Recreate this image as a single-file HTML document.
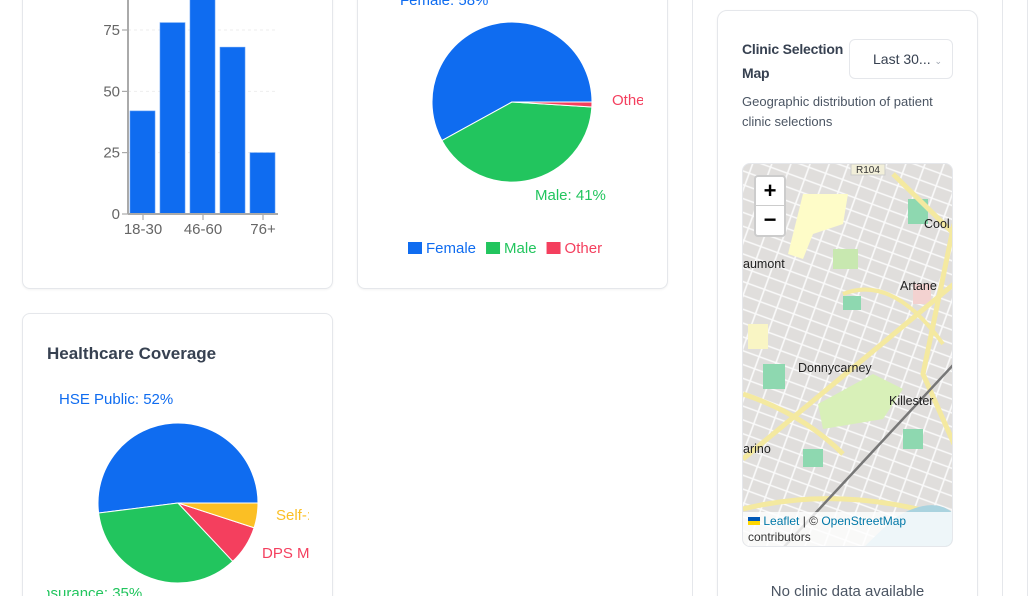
<!DOCTYPE html>
<html><head><meta charset="utf-8">
<style>
*{box-sizing:border-box;margin:0;padding:0}
html,body{width:1029px;height:596px;overflow:hidden}
body{background:#fff;font-family:"Liberation Sans",sans-serif;position:relative}
.card{position:absolute;background:#fff;border:1px solid #e5e7eb;border-radius:8px;box-shadow:0 1px 2px rgba(0,0,0,0.05)}
svg text{font-family:"Liberation Sans",sans-serif}
</style></head><body>
<div class="card" style="left:22px;top:-20px;width:311px;height:309px"></div>
<div class="card" style="left:357px;top:-20px;width:311px;height:309px"></div>
<div class="card" style="left:22px;top:313px;width:311px;height:300px">
  <div style="position:absolute;left:24px;top:30px;font-size:17px;font-weight:bold;color:#374151">Healthcare Coverage</div>
</div>
<div style="position:absolute;left:692px;top:-10px;width:311px;height:620px;border:1px solid #e5e7eb"></div>
<div style="position:absolute;left:1027px;top:0;width:1px;height:596px;background:#e5e7eb"></div>
<div class="card" style="left:717px;top:10px;width:261px;height:600px;border-radius:10px">
  <div style="position:absolute;left:24px;top:26px;font-size:14px;font-weight:bold;color:#374151;line-height:24px;white-space:nowrap;letter-spacing:-0.2px">Clinic Selection<br>Map</div>
  <div style="position:absolute;left:131px;top:28px;width:104px;height:40px;border:1px solid #e5e7eb;border-radius:6px;font-size:14px;color:#374151;padding:11px 0 0 23px;background:#fff">Last 30... <span style="font-size:9px;color:#9ca3af">&#8964;</span></div>
  <div style="position:absolute;left:24px;top:81px;font-size:13px;color:#4b5563;line-height:20px;width:220px">Geographic distribution of patient clinic selections</div>
  <div style="position:absolute;left:24px;top:152px;width:211px;height:384px;border-radius:8px;overflow:hidden;border:1px solid #e5e7eb;background:#e0dedc">
    <svg width="211" height="384">
      <defs><pattern id="st" width="18" height="13" patternUnits="userSpaceOnUse" patternTransform="rotate(20)"><path d="M0 6.5H18M9 0V13" stroke="#fafafa" stroke-width="1.6"/></pattern></defs>
      <rect width="211" height="384" fill="url(#st)"/>
      <path d="M60 30h45l-5 30-30 10-10 25-15-5z" fill="#fefcc8"/>
      <path d="M75 240l55-30 30 15-20 30-60 10z" fill="#d8f0b8"/>
      <rect x="100" y="132" width="18" height="14" fill="#8ed8b0"/><rect x="165" y="35" width="20" height="25" fill="#8ed8b0"/>
      <rect x="20" y="200" width="22" height="25" fill="#8ed8b0"/><rect x="60" y="285" width="20" height="18" fill="#8ed8b0"/>
      <rect x="160" y="265" width="20" height="20" fill="#8ed8b0"/><rect x="170" y="120" width="18" height="20" fill="#f3d2d0"/>
      <rect x="90" y="85" width="25" height="20" fill="#c8e8b0"/><rect x="5" y="160" width="20" height="25" fill="#f9f5c4"/>
      <path d="M0 295L211 120" stroke="#f4e9a0" stroke-width="5"/>
      <path d="M150 10L211 70" stroke="#f4e9a0" stroke-width="5"/>
      <path d="M211 60L180 210L211 280" stroke="#f4e9a0" stroke-width="5" fill="none"/>
      <path d="M0 230Q60 250 100 290" stroke="#f4e9a0" stroke-width="5" fill="none"/>
      <path d="M0 345Q100 320 211 355" stroke="#f4e9a0" stroke-width="5" fill="none"/>
      <path d="M40 384L211 200" stroke="#777" stroke-width="2.5"/>
      <path d="M100 130Q150 110 200 180" stroke="#f4e9a0" stroke-width="4" fill="none"/>
      <path d="M150 355Q190 330 211 350V384H120z" fill="#aad3df"/>
      <rect x="108" y="0" width="34" height="11" fill="#f2efd9" stroke="#ccc"/>
      <text x="113" y="9" font-size="10" fill="#333">R104</text>
      <text x="181" y="64" font-size="12.5" fill="#222">Cool</text>
      <text x="0" y="104" font-size="12.5" fill="#222">aumont</text>
      <text x="157" y="126" font-size="12.5" fill="#222">Artane</text>
      <text x="55" y="208" font-size="12.5" fill="#222">Donnycarney</text>
      <text x="146" y="241" font-size="12.5" fill="#222">Killester</text>
      <text x="0" y="289" font-size="12.5" fill="#222">arino</text>
    </svg>
    <div style="position:absolute;left:11px;top:11px;width:32px;height:62px;background:#fff;border:2px solid rgba(0,0,0,0.2);border-radius:4px">
      <div style="height:29px;border-bottom:1px solid #ccc;text-align:center;font-size:22px;font-weight:bold;line-height:28px">+</div>
      <div style="height:29px;text-align:center;font-size:22px;font-weight:bold;line-height:28px">&minus;</div>
    </div>
    <div style="position:absolute;left:0;bottom:0;width:211px;height:34px;background:rgba(255,255,255,0.8);font-size:12px;color:#333;padding:1px 5px;line-height:16px">
      <span style="display:inline-block;width:12px;height:8px;background:linear-gradient(#0057b7 50%,#ffd700 50%)"></span> <span style="color:#0078a8">Leaflet</span> | © <span style="color:#0078a8">OpenStreetMap</span><br>contributors</div>
  </div>
  <div style="position:absolute;left:0;width:259px;top:572px;text-align:center;font-size:15px;color:#4b5563">No clinic data available</div>
</div>

<svg id="charts" width="1029" height="596" style="position:absolute;left:0;top:0;pointer-events:none"></svg>
<script>
const ageCategories=["18-30","31-45","46-60","61-75","76+"];
const ageValues=[42,78,89,68,25];
const ageTicks=[0,25,50,75,100];
const genderLabels=["Female","Male","Other"];
const genderValues=[58,41,1];
const genderColors=["#0f6cf0","#22c55e","#f43f5e"];
const coverageLabels=["HSE Public","Insurance","DPS M","Self-"];
const coverageValues=[52,35,8,5];
const coverageColors=["#0f6cf0","#22c55e","#f43f5e","#fbbf24"];

const NS="http://www.w3.org/2000/svg";
const svg=document.getElementById('charts');
function mk(tag,attrs,parent){const e=document.createElementNS(NS,tag);for(const k in attrs)e.setAttribute(k,attrs[k]);(parent||svg).appendChild(e);return e;}

const x0=128,x1=278,yBase=214,pxPerUnit=184/75;
const yS=v=>yBase-v*pxPerUnit;
const band=(x1-x0)/ageCategories.length;
const g1=mk('g',{});


ageTicks.forEach(t=>{
  const y=yS(t);
  if(t>0){const gl=mk('line',{x1:x0,x2:x1,y1:y,y2:y,stroke:'#eee','stroke-dasharray':'3 3'},g1);}
  const tk=mk('line',{x1:x0-6,x2:x0,y1:y,y2:y,stroke:'#999'},g1);
  
  const tx=mk('text',{x:x0-8,y:y+5,'text-anchor':'end','font-size':15,fill:'#666'},g1);tx.textContent=t;
  
});
ageCategories.forEach((c,i)=>{
  const v=ageValues[i];
  const b=mk('rect',{x:x0+i*band+2,y:yS(v),width:band-5,height:yBase-yS(v),fill:'#0f6cf0',stroke:'#5b9cf5','stroke-width':0.6},g1);
  
  const cx=x0+i*band+band/2;
  if(i%2===0){
    const tk=mk('line',{x1:cx,x2:cx,y1:yBase,y2:yBase+6,stroke:'#999'},g1);
    
    const tx=mk('text',{x:cx,y:yBase+20,'text-anchor':'middle','font-size':15,fill:'#666'},g1);tx.textContent=c;
    }
});
const ya=mk('line',{x1:x0,x2:x0,y1:-5,y2:yBase,stroke:'#aaa','stroke-width':2},g1);

const xa=mk('line',{x1:x0,x2:x1,y1:yBase,y2:yBase,stroke:'#aaa','stroke-width':2},g1);


function pie(cx,cy,r,vals,cols,labels,name,labelPos){
  const total=vals.reduce((a,b)=>a+b,0);
  const g=mk('g',{});
  
  let a=0;
  vals.forEach((v,i)=>{
    const a2=a+v/total*360;
    const p=d=>[cx+r*Math.cos(d*Math.PI/180),cy-r*Math.sin(d*Math.PI/180)];
    const [sx,sy]=p(a),[ex,ey]=p(a2);
    const s=mk('path',{d:`M${cx},${cy}L${sx},${sy}A${r},${r} 0 ${a2-a>180?1:0} 0 ${ex},${ey}Z`,fill:cols[i],stroke:'#fff','stroke-width':1},g);
    
    
    const lp=labelPos[i];
    const t=mk('text',{x:lp[0],y:lp[1],'text-anchor':lp[2],'font-size':15,fill:cols[i],'clip-path':'url(#clip-'+name+')'},g);
    t.textContent=labels[i]+': '+v+'%';
    
    a=a2;
  });
}
const defs=mk('defs',{});
const c1=mk('clipPath',{id:'clip-gender-pie'},defs);mk('rect',{x:0,y:0,width:643,height:596},c1);
const c2=mk('clipPath',{id:'clip-coverage-pie'},defs);mk('rect',{x:47,y:0,width:262,height:596},c2);
pie(512,102,80,genderValues,genderColors,genderLabels,'gender-pie',[[400,5,'start'],[535,200,'start'],[612,105,'start']]);
pie(178,503,80,coverageValues,coverageColors,coverageLabels,'coverage-pie',[[59,404,'start'],[38,598,'start'],[262,558,'start'],[276,520,'start']]);

let lx=408;
genderLabels.forEach((l,i)=>{
  const r=mk('rect',{x:lx,y:242,width:14,height:12,fill:genderColors[i]});
  
  const t=mk('text',{x:lx+18,y:253,'font-size':15,fill:genderColors[i]});t.textContent=l;
  
  lx+=18+t.getComputedTextLength()+10;
});
</script>
</body></html>
